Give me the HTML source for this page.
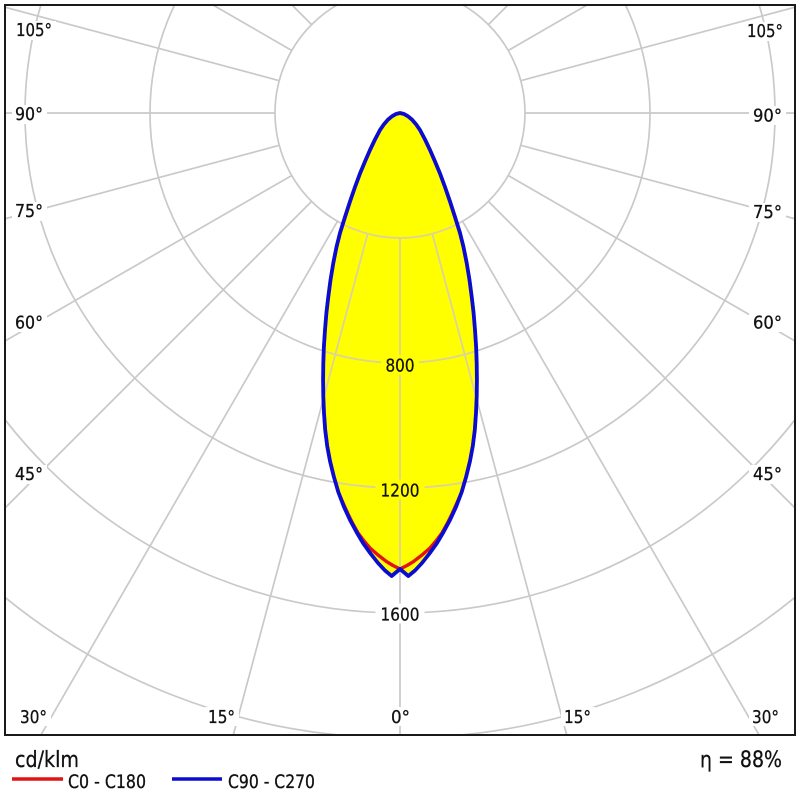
<!DOCTYPE html>
<html>
<head>
<meta charset="utf-8">
<style>
  html, body { margin: 0; padding: 0; background: #ffffff; }
  body { width: 800px; height: 800px; overflow: hidden; }
  svg { display: block; }
  text { font-family: "DejaVu Sans", "Liberation Sans", sans-serif; fill: #111; }
</style>
</head>
<body>
<svg width="800" height="800" viewBox="0 0 800 800" xmlns="http://www.w3.org/2000/svg">
  <defs>
    <clipPath id="frameClip">
      <rect x="5" y="5" width="790" height="730"/>
    </clipPath>
    <clipPath id="curveClip">
      <path d="M400,113 L396,114 L392,116.3 L388,119.6 L384,124.2 L380,130 L375,139.5 L370,150 L365,161.5 L360,173.5 L355,187 L350,201.5 L345,217 L340,233 L336.5,247 L333.3,263 L330.5,280 L328.3,296.7 L326.4,313 L325,330 L323.9,346.5 L323.3,363 L323.1,380 L323.3,396.7 L324,413 L325.2,430 L327.2,446 L330,461 L333.8,476.5 L338.3,492 L343.8,506.5 L350,520 L356.5,532 L363,543 L370.5,553.5 L378,563 L385,570.5 L391.7,576 L400,569 L408.3,576 L415,570.5 L422,563 L429.5,553.5 L437,543 L443.5,532 L450,520 L456.2,506.5 L461.7,492 L466.2,476.5 L470,461 L472.8,446 L474.8,430 L476,413 L476.7,396.7 L476.9,380 L476.7,363 L476.1,346.5 L475,330 L473.6,313 L471.7,296.7 L469.5,280 L466.7,263 L463.5,247 L460,233 L455,217 L450,201.5 L445,187 L440,173.5 L435,161.5 L430,150 L425,139.5 L420,130 L416,124.2 L412,119.6 L408,116.3 L404,114 Z"/>
    </clipPath>
  </defs>

  <!-- Grid (gray) -->
  <g clip-path="url(#frameClip)" fill="none" stroke="#c9c9c9" stroke-width="1.7">
    <circle cx="400" cy="113" r="125"/>
    <circle cx="400" cy="113" r="250"/>
    <circle cx="400" cy="113" r="375"/>
    <circle cx="400" cy="113" r="500"/>
    <circle cx="400" cy="113" r="625"/>
    <line x1="400" y1="238" x2="400" y2="735"/>
    <line x1="432.35" y1="233.74" x2="566.7" y2="735"/>
    <line x1="462.5" y1="221.25" x2="759.1" y2="735"/>
    <line x1="488.39" y1="201.39" x2="795" y2="508"/>
    <line x1="508.25" y1="175.5" x2="795" y2="341"/>
    <line x1="520.74" y1="145.35" x2="795" y2="218.8"/>
    <line x1="525" y1="113" x2="795" y2="113"/>
    <line x1="520.74" y1="80.65" x2="795" y2="7.2"/>
    <line x1="508.25" y1="50.5" x2="587" y2="5"/>
    <line x1="488.39" y1="24.61" x2="508" y2="5"/>
    <line x1="367.65" y1="233.74" x2="233.3" y2="735"/>
    <line x1="337.5" y1="221.25" x2="40.9" y2="735"/>
    <line x1="311.61" y1="201.39" x2="5" y2="508"/>
    <line x1="291.75" y1="175.5" x2="5" y2="341"/>
    <line x1="279.26" y1="145.35" x2="5" y2="218.8"/>
    <line x1="275" y1="113" x2="5" y2="113"/>
    <line x1="279.26" y1="80.65" x2="5" y2="7.2"/>
    <line x1="291.75" y1="50.5" x2="213" y2="5"/>
    <line x1="311.61" y1="24.61" x2="292" y2="5"/>
  </g>

  <!-- Yellow fill -->
  <path fill="#ffff00" stroke="none" d="M400,113 L396,114 L392,116.3 L388,119.6 L384,124.2 L380,130 L375,139.5 L370,150 L365,161.5 L360,173.5 L355,187 L350,201.5 L345,217 L340,233 L336.5,247 L333.3,263 L330.5,280 L328.3,296.7 L326.4,313 L325,330 L323.9,346.5 L323.3,363 L323.1,380 L323.3,396.7 L324,413 L325.2,430 L327.2,446 L330,461 L333.8,476.5 L338.3,492 L343.8,506.5 L350,520 L356.5,532 L363,543 L370.5,553.5 L378,563 L385,570.5 L391.7,576 L400,569 L408.3,576 L415,570.5 L422,563 L429.5,553.5 L437,543 L443.5,532 L450,520 L456.2,506.5 L461.7,492 L466.2,476.5 L470,461 L472.8,446 L474.8,430 L476,413 L476.7,396.7 L476.9,380 L476.7,363 L476.1,346.5 L475,330 L473.6,313 L471.7,296.7 L469.5,280 L466.7,263 L463.5,247 L460,233 L455,217 L450,201.5 L445,187 L440,173.5 L435,161.5 L430,150 L425,139.5 L420,130 L416,124.2 L412,119.6 L408,116.3 L404,114 Z"/>

  <!-- Grid inside yellow (beige) -->
  <g clip-path="url(#curveClip)" fill="none" stroke="#dbd29c" stroke-width="1.8">
    <circle cx="400" cy="113" r="125"/>
    <circle cx="400" cy="113" r="250"/>
    <circle cx="400" cy="113" r="375"/>
    <circle cx="400" cy="113" r="500"/>
    <line x1="400" y1="238" x2="400" y2="735"/>
    <line x1="432.35" y1="233.74" x2="566.7" y2="735"/>
    <line x1="462.5" y1="221.25" x2="759.1" y2="735"/>
    <line x1="367.65" y1="233.74" x2="233.3" y2="735"/>
    <line x1="337.5" y1="221.25" x2="40.9" y2="735"/>
  </g>

  <!-- Label backgrounds -->
  <g fill="#ffffff" stroke="none">
    <rect x="13" y="21" width="43" height="19"/>
    <rect x="12" y="105" width="35" height="19"/>
    <rect x="12" y="202" width="35" height="19"/>
    <rect x="12" y="313" width="35" height="19"/>
    <rect x="12" y="465" width="35" height="19"/>
    <rect x="743" y="22" width="43" height="19"/>
    <rect x="749" y="106" width="37" height="19"/>
    <rect x="749" y="203" width="37" height="19"/>
    <rect x="749" y="313" width="37" height="19"/>
    <rect x="749" y="465" width="37" height="19"/>
    <rect x="17" y="707" width="34" height="19"/>
    <rect x="205" y="707" width="34" height="19"/>
    <rect x="388" y="707" width="26" height="19"/>
    <rect x="561" y="707" width="34" height="19"/>
    <rect x="749" y="707" width="34" height="19"/>
    <rect x="375.5" y="603.5" width="49" height="20"/>
  </g>
  <g fill="#ffff00" stroke="none">
    <rect x="381" y="355" width="38" height="20"/>
    <rect x="375.5" y="479.5" width="49" height="20"/>
  </g>

  <!-- Red curve C0-C180 -->
  <path fill="none" stroke="#e01414" stroke-width="3.4" stroke-linejoin="round" d="M400,113 L396,114 L392,116.3 L388,119.6 L384,124.2 L380,130 L375,139.5 L370,150 L365,161.5 L360,173.5 L355,187 L350,201.5 L345,217 L340,233 L336.5,247 L333.3,263 L330.5,280 L328.3,296.7 L326.4,313 L325,330 L323.9,346.5 L323.3,363 L323.1,380 L323.3,396.7 L324,413 L325.2,430 L327.2,446 L330,461 L333.8,476.5 L338.3,492 L343.5,504 L348,514 L353,524 L358,533 L364,541 L370,548 L378,555 L386.7,561.7 L393,565.5 L400,569 L407,565.5 L413.3,561.7 L422,555 L430,548 L436,541 L442,533 L447,524 L452,514 L456.5,504 L461.7,492 L466.2,476.5 L470,461 L472.8,446 L474.8,430 L476,413 L476.7,396.7 L476.9,380 L476.7,363 L476.1,346.5 L475,330 L473.6,313 L471.7,296.7 L469.5,280 L466.7,263 L463.5,247 L460,233 L455,217 L450,201.5 L445,187 L440,173.5 L435,161.5 L430,150 L425,139.5 L420,130 L416,124.2 L412,119.6 L408,116.3 L404,114 Z"/>

  <!-- Blue curve C90-C270 -->
  <path fill="none" stroke="#0c0cd0" stroke-width="3.8" stroke-linejoin="round" d="M400,113 L396,114 L392,116.3 L388,119.6 L384,124.2 L380,130 L375,139.5 L370,150 L365,161.5 L360,173.5 L355,187 L350,201.5 L345,217 L340,233 L336.5,247 L333.3,263 L330.5,280 L328.3,296.7 L326.4,313 L325,330 L323.9,346.5 L323.3,363 L323.1,380 L323.3,396.7 L324,413 L325.2,430 L327.2,446 L330,461 L333.8,476.5 L338.3,492 L343.8,506.5 L350,520 L356.5,532 L363,543 L370.5,553.5 L378,563 L385,570.5 L391.7,576 L400,569 L408.3,576 L415,570.5 L422,563 L429.5,553.5 L437,543 L443.5,532 L450,520 L456.2,506.5 L461.7,492 L466.2,476.5 L470,461 L472.8,446 L474.8,430 L476,413 L476.7,396.7 L476.9,380 L476.7,363 L476.1,346.5 L475,330 L473.6,313 L471.7,296.7 L469.5,280 L466.7,263 L463.5,247 L460,233 L455,217 L450,201.5 L445,187 L440,173.5 L435,161.5 L430,150 L425,139.5 L420,130 L416,124.2 L412,119.6 L408,116.3 L404,114 Z"/>

  <!-- Frame -->
  <rect x="5" y="5" width="790" height="730" fill="none" stroke="#1a1a1a" stroke-width="2"/>

  <!-- Angle labels -->
  <g style="font-size:18px" stroke="#111" stroke-width="0.3">
    <text x="16" y="36" textLength="36" lengthAdjust="spacingAndGlyphs">105°</text>
    <text x="15" y="120" textLength="28" lengthAdjust="spacingAndGlyphs">90°</text>
    <text x="15" y="217" textLength="28" lengthAdjust="spacingAndGlyphs">75°</text>
    <text x="15" y="328.5" textLength="28" lengthAdjust="spacingAndGlyphs">60°</text>
    <text x="15" y="480" textLength="28" lengthAdjust="spacingAndGlyphs">45°</text>

    <text x="747" y="37" textLength="36" lengthAdjust="spacingAndGlyphs">105°</text>
    <text x="753" y="121.5" textLength="29" lengthAdjust="spacingAndGlyphs">90°</text>
    <text x="753" y="218" textLength="29" lengthAdjust="spacingAndGlyphs">75°</text>
    <text x="753" y="328.5" textLength="29" lengthAdjust="spacingAndGlyphs">60°</text>
    <text x="753" y="480" textLength="29" lengthAdjust="spacingAndGlyphs">45°</text>

    <text x="20" y="723" textLength="27" lengthAdjust="spacingAndGlyphs">30°</text>
    <text x="208" y="723" textLength="27" lengthAdjust="spacingAndGlyphs">15°</text>
    <text x="391" y="723" textLength="19" lengthAdjust="spacingAndGlyphs">0°</text>
    <text x="564" y="723" textLength="27" lengthAdjust="spacingAndGlyphs">15°</text>
    <text x="752" y="723" textLength="27" lengthAdjust="spacingAndGlyphs">30°</text>

    <text x="385.5" y="371.5" textLength="29" lengthAdjust="spacingAndGlyphs">800</text>
    <text x="380.5" y="496.5" textLength="39" lengthAdjust="spacingAndGlyphs">1200</text>
    <text x="380.5" y="620.5" textLength="39" lengthAdjust="spacingAndGlyphs">1600</text>
  </g>

  <!-- Legend -->
  <text x="15" y="767" style="font-size:22px" stroke="#111" stroke-width="0.3" textLength="64" lengthAdjust="spacingAndGlyphs">cd/klm</text>
  <text x="700" y="767" style="font-size:22px" stroke="#111" stroke-width="0.3" textLength="82" lengthAdjust="spacingAndGlyphs">η = 88%</text>
  <line x1="12" y1="779" x2="63" y2="779" stroke="#e01414" stroke-width="3.4"/>
  <text x="68" y="788" style="font-size:19px" stroke="#111" stroke-width="0.3" textLength="78" lengthAdjust="spacingAndGlyphs">C0 - C180</text>
  <line x1="172" y1="779" x2="222" y2="779" stroke="#0c0cd0" stroke-width="3.4"/>
  <text x="228" y="788" style="font-size:19px" stroke="#111" stroke-width="0.3" textLength="87" lengthAdjust="spacingAndGlyphs">C90 - C270</text>
</svg>
</body>
</html>
